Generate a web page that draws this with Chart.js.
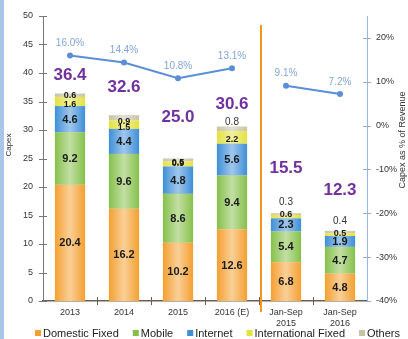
<!DOCTYPE html>
<html>
<head>
<meta charset="utf-8">
<script src="https://cdn.jsdelivr.net/npm/chart.js@4"></script>
<style>
  html, body { margin: 0; padding: 0; background: #fff; }
  #wrap { width: 408px; height: 339px; position: relative; }
</style>
</head>
<body>
<div id="wrap"><canvas id="capex_chart"></canvas></div>
<script>
// DATA
const categories = [["2013"], ["2014"], ["2015"], ["2016 (E)"], ["Jan-Sep", "2015"], ["Jan-Sep", "2016"]];
const domestic_fixed = [20.4, 16.2, 10.2, 12.6, 6.8, 4.8];
const mobile = [9.2, 9.6, 8.6, 9.4, 5.4, 4.7];
const internet = [4.6, 4.4, 4.8, 5.6, 2.3, 1.9];
const international_fixed = [1.6, 1.5, 0.9, 2.2, 0.6, 0.5];
const others = [0.6, 0.9, 0.5, 0.8, 0.3, 0.4];
const totals = [36.4, 32.6, 25.0, 30.6, 15.5, 12.3];
const capex_pct = [16.0, 14.4, 10.8, 13.1, 9.1, 7.2];

const FONT = "'Liberation Sans', Arial, sans-serif";
const line_color = "#5a8fd8";

// label nudges (px), only for the small top segments
const intl_nudge = [3, 2, -1, 2, -3, -2];
const others_nudge = [0, 3, 2];
const others_above = [0, 0, 0, 4, 10, 9];
const total_gap = [18, 28, 41, 22, 45, 41];

// light stripe in the middle of every bar
const shadePlugin = {
  id: "shade",
  afterDatasetDraw(chart, args) {
    const meta = args.meta;
    if (meta.type !== "bar") return;
    const c = chart.ctx;
    c.save();
    meta.data.forEach((bar) => {
      const left = bar.x - bar.width / 2;
      const g = c.createLinearGradient(left, 0, left + bar.width, 0);
      g.addColorStop(0, "rgba(255,255,255,0)");
      g.addColorStop(0.5, "rgba(255,255,255,0.5)");
      g.addColorStop(1, "rgba(255,255,255,0)");
      c.fillStyle = g;
      c.fillRect(left, Math.min(bar.y, bar.base), bar.width, Math.abs(bar.base - bar.y));
    });
    c.restore();
  },
};

const decoPlugin = {
  id: "deco",
  beforeDraw(chart) {
    const c = chart.ctx;
    c.save();
    c.fillStyle = "#a9c5ea";
    c.fillRect(0, 0, 4, chart.height);
    c.restore();
  },
  afterDraw(chart) {
    const c = chart.ctx;
    const area = chart.chartArea;
    const x = chart.scales.x, y = chart.scales.y, y1 = chart.scales.y1;
    c.save();

    // crossing tick marks
    c.lineWidth = 1;
    c.strokeStyle = "#777";
    y.ticks.forEach((t, i) => {
      const py = Math.round(y.getPixelForTick(i)) + 0.5;
      c.beginPath(); c.moveTo(area.left - 4, py); c.lineTo(area.left + 4, py); c.stroke();
    });
    c.strokeStyle = "#8fb0dc";
    y1.ticks.forEach((t, i) => {
      const py = Math.round(y1.getPixelForTick(i)) + 0.5;
      c.beginPath(); c.moveTo(area.right - 4, py); c.lineTo(area.right + 4, py); c.stroke();
    });
    c.strokeStyle = "#6d5f52";
    for (let i = 1; i < categories.length; i++) {
      const px = Math.round(x.getPixelForValue(i - 0.5)) + 0.5;
      c.beginPath(); c.moveTo(px, area.bottom - 4); c.lineTo(px, area.bottom + 4); c.stroke();
    }

    // separator between full years and nine-month figures
    const sx = x.getPixelForValue(3.5) + 2;
    c.strokeStyle = "#f7941d";
    c.lineWidth = 2;
    c.beginPath(); c.moveTo(sx, 25); c.lineTo(sx, area.bottom + 11); c.stroke();

    // axis titles
    c.fillStyle = "#333";
    c.textAlign = "center";
    c.textBaseline = "middle";
    c.font = "8px " + FONT;
    c.save(); c.translate(9, 145); c.rotate(-Math.PI / 2); c.fillText("Capex", 0, 0); c.restore();
    c.font = "9px " + FONT;
    c.save(); c.translate(403, 140); c.rotate(-Math.PI / 2); c.fillText("Capex as % of Revenue", 0, 0); c.restore();

    // segment labels
    const ds = chart.data.datasets;
    for (let d = 0; d < 5; d++) {
      const meta = chart.getDatasetMeta(d);
      meta.data.forEach((bar, i) => {
        const v = ds[d].data[i];
        let ly = (bar.y + bar.base) / 2;
        c.fillStyle = "#1a1a1a";
        c.font = "bold 11px " + FONT;
        if (d === 3) {
          c.font = "bold 9px " + FONT;
          ly += intl_nudge[i];
        } else if (d === 4) {
          if (others_above[i]) {
            c.font = "10px " + FONT;
            c.fillStyle = "#333";
            ly = bar.y - others_above[i] - 1;
          } else {
            c.font = "bold 9px " + FONT;
            ly += others_nudge[i];
          }
        }
        c.fillText(v.toFixed(1), bar.x, ly + 0.5);
      });
    }

    // totals
    const topMeta = chart.getDatasetMeta(4);
    c.font = "bold 17px " + FONT;
    c.fillStyle = "#7030a0";
    topMeta.data.forEach((bar, i) => {
      c.fillText(totals[i].toFixed(1), bar.x, bar.y - total_gap[i]);
    });

    // percent labels
    const lineMeta = chart.getDatasetMeta(5);
    c.font = "10px " + FONT;
    c.fillStyle = "#7ea6d8";
    lineMeta.data.forEach((pt, i) => {
      c.fillText(capex_pct[i].toFixed(1) + "%", pt.x, pt.y - 12);
    });

    // legend
    let lx = 35;
    const ly = 333;
    c.font = "11px " + FONT;
    c.textAlign = "left";
    for (let d = 0; d < 5; d++) {
      c.fillStyle = ds[d].backgroundColor;
      c.fillRect(lx, ly - 3, 6, 6);
      c.fillStyle = "#222";
      c.fillText(ds[d].label, lx + 8, ly + 0.5);
      lx += 8 + c.measureText(ds[d].label).width + 14;
    }
    c.restore();
  },
};

function barSet(label, data, color) {
  return {
    type: "bar",
    label: label,
    data: data,
    backgroundColor: color,
    borderWidth: 0,
    stack: "capex",
    yAxisID: "y",
    order: 1,
    barPercentage: 0.56,
    categoryPercentage: 1,
  };
}

const ctx = document.getElementById("capex_chart").getContext("2d");
document.getElementById("capex_chart").width = 408;
document.getElementById("capex_chart").height = 339;

const my_chart = new Chart(ctx, {
  data: {
    labels: categories,
    datasets: [
      barSet("Domestic Fixed", domestic_fixed, "#f4a030"),
      barSet("Mobile", mobile, "#86c04a"),
      barSet("Internet", internet, "#3f8fd8"),
      barSet("International Fixed", international_fixed, "#e4e23e"),
      barSet("Others", others, "#c9c3a6"),
      {
        type: "line",
        label: "Capex as % of Revenue",
        data: capex_pct,
        yAxisID: "y1",
        order: 0,
        borderColor: line_color,
        backgroundColor: line_color,
        borderWidth: 2,
        pointRadius: 3,
        pointBorderWidth: 0,
        tension: 0,
        segment: {
          borderColor: (s) => (s.p0DataIndex === 3 ? "rgba(0,0,0,0)" : line_color),
        },
      },
    ],
  },
  options: {
    responsive: false,
    animation: false,
    layout: { padding: { top: 16, bottom: 10, left: 0, right: 0 } },
    plugins: {
      legend: { display: false },
      tooltip: { enabled: false },
    },
    scales: {
      x: {
        stacked: true,
        grid: { display: false, drawTicks: false },
        border: { display: true, color: "#6d5f52", width: 1.5 },
        ticks: { font: { family: FONT, size: 9 }, color: "#333", padding: 6, maxRotation: 0, autoSkip: false },
        afterFit: (s) => { s.height = 28; },
      },
      y: {
        stacked: true,
        min: 0,
        max: 50,
        grid: { display: false, drawTicks: false },
        border: { display: true, color: "#777" },
        ticks: { stepSize: 5, font: { family: FONT, size: 9 }, color: "#333", padding: 10 },
        afterFit: (s) => { s.width = 43; },
      },
      y1: {
        position: "right",
        min: -40,
        max: 25,
        grid: { display: false, drawTicks: false },
        border: { display: true, color: "#9ab8e2" },
        ticks: {
          stepSize: 10,
          includeBounds: false,
          font: { family: FONT, size: 9 },
          color: "#333",
          padding: 9,
          callback: (v) => v + "%",
        },
        afterFit: (s) => { s.width = 41; },
      },
    },
  },
  plugins: [shadePlugin, decoPlugin],
});
</script>
</body>
</html>
